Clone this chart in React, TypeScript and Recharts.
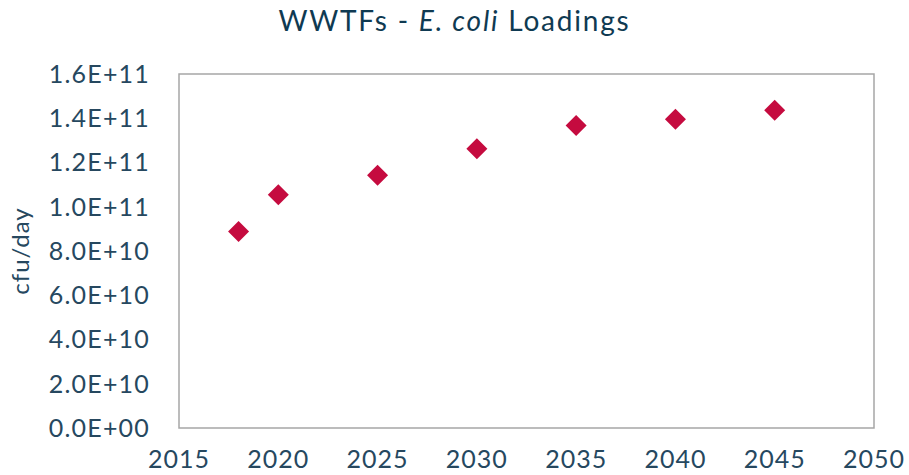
import React from 'react';
import { ScatterChart, Scatter, XAxis, YAxis, ReferenceArea, Label } from 'recharts';

const years = [2018, 2020, 2025, 2030, 2035, 2040, 2045];
const loadings = [8.88e10, 1.054e11, 1.142e11, 1.262e11, 1.367e11, 1.396e11, 1.436e11];
const xTicks = [2015, 2020, 2025, 2030, 2035, 2040, 2045, 2050];
const yTicks = [0, 2e10, 4e10, 6e10, 8e10, 1e11, 1.2e11, 1.4e11, 1.6e11];

const data = years.map((y, i) => ({ year: y, value: loadings[i] }));

const TEXT = '#26485f';
const FONT = 'Lato, "Open Sans", sans-serif';

function fmt(v: number): string {
  if (v === 0) return '0.0E+00';
  const e = Math.floor(Math.log10(Math.abs(v)) + 1e-9);
  const m = v / Math.pow(10, e);
  const es = String(Math.abs(e)).padStart(2, '0');
  return `${m.toFixed(1)}E${e < 0 ? '-' : '+'}${es}`;
}

const Diamond = (props: any) => {
  const { cx, cy } = props;
  const r = 10.5;
  return (
    <polygon
      points={`${cx},${cy - r} ${cx + r},${cy} ${cx},${cy + r} ${cx - r},${cy}`}
      fill="#c50b3f"
    />
  );
};

export default function App() {
  return (
    <div style={{ position: 'absolute', left: 0, top: 0, width: 909, height: 475, background: '#fff', fontFamily: FONT }}>
      <div
        style={{
          position: 'absolute',
          left: 0,
          top: 2,
          width: 909,
          textAlign: 'center',
          fontSize: 28,
          letterSpacing: 1.8,
          color: '#0f3a52',
          lineHeight: '36px',
          fontFamily: FONT,
        }}
      >
        WWTFs - <i>E. coli</i> Loadings
      </div>
      <ScatterChart width={909} height={475} margin={{ top: 74, right: 35, bottom: 0, left: 0 }}>
        <XAxis
          type="number"
          dataKey="year"
          domain={[2015, 2050]}
          ticks={xTicks}
          interval={0}
          axisLine={false}
          tickLine={false}
          tickSize={0}
          tickMargin={22}
          height={47}
          tick={{ fill: TEXT, fontSize: 25, fontFamily: FONT, letterSpacing: 1 }}
        />
        <YAxis
          type="number"
          dataKey="value"
          domain={[0, 1.6e11]}
          ticks={yTicks}
          interval={0}
          axisLine={false}
          tickLine={false}
          tickSize={0}
          tickMargin={29}
          width={179}
          tickFormatter={fmt}
          tick={{ fill: TEXT, fontSize: 25, fontFamily: FONT, letterSpacing: 1.2 }}
        >
          <Label
            value="cfu/day"
            angle={-90}
            position="insideLeft"
            offset={20}
            textAnchor="middle"
            style={{ fill: TEXT, fontSize: 24, fontFamily: FONT, letterSpacing: 1 }}
          />
        </YAxis>
        <ReferenceArea
          x1={2015}
          x2={2050}
          y1={0}
          y2={1.6e11}
          fill="none"
          stroke="#a6a6a6"
          strokeWidth={1.5}
        />
        <Scatter data={data} shape={<Diamond />} isAnimationActive={false} />
      </ScatterChart>
    </div>
  );
}
